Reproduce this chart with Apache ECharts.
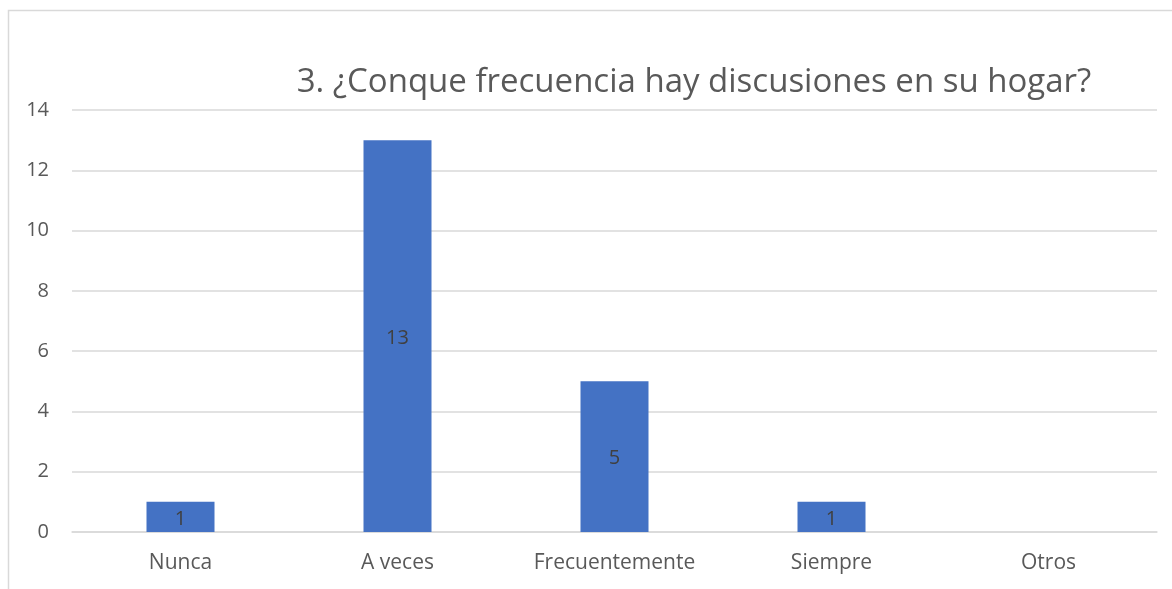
<!DOCTYPE html>
<html>
<head>
<meta charset="utf-8">
<script src="https://cdn.jsdelivr.net/npm/echarts@6/dist/echarts.min.js"></script>
<style>
  html, body { margin: 0; padding: 0; background: #fff; }
  #chrt_hogar { width: 1172px; height: 589px; }
</style>
</head>
<body>
<div id="chrt_hogar"></div>
<script>
var categories = ['Nunca', 'A veces', 'Frecuentemente', 'Siempre', 'Otros']
var valores = [1, 13, 5, 1, null]
var yTicks = [0, 2, 4, 6, 8, 10, 12, 14]

var fuente = '"Open Sans", "Noto Sans", sans-serif'

var chart = echarts.init(document.getElementById('chrt_hogar'))
chart.setOption({
    animation: false,
    title: {
        text: '3. ¿Conque frecuencia hay discusiones en su hogar?',
        left: 689, top: 61, textAlign: 'center',
        textStyle: { fontFamily: fuente, fontSize: 33, fontWeight: 'normal', color: '#595959' }
    },
    graphic: [{
        type: 'rect', silent: true,
        shape: { x: 8.5, y: 10.5, width: 1300, height: 700 },
        style: { fill: 'none', stroke: '#d9d9d9', lineWidth: 1.5 }
    }],
    grid: { left: 72, right: 15, top: 110, bottom: 57 },
    xAxis: {
        type: 'category',
        data: categories,
        axisTick: { show: false },
        axisLine: { show: true, lineStyle: { color: '#d9d9d9', width: 1.5 } },
        axisLabel: { fontFamily: fuente, fontSize: 21, color: '#595959', margin: 21 }
    },
    yAxis: {
        type: 'value',
        min: yTicks[0], max: yTicks[yTicks.length - 1], interval: 2,
        axisLine: { show: false },
        axisTick: { show: false },
        axisLabel: { fontFamily: fuente, fontSize: 20, color: '#595959', margin: 23 },
        splitLine: { lineStyle: { color: '#d9d9d9', width: 1.5 } }
    },
    series: [{
        type: 'bar',
        data: valores,
        barWidth: 68,
        itemStyle: { color: '#4472c4' },
        label: {
            show: true, position: 'inside', offset: [0, 2],
            fontFamily: fuente, fontSize: 20, color: '#404040'
        }
    }]
})
</script>
</body>
</html>
